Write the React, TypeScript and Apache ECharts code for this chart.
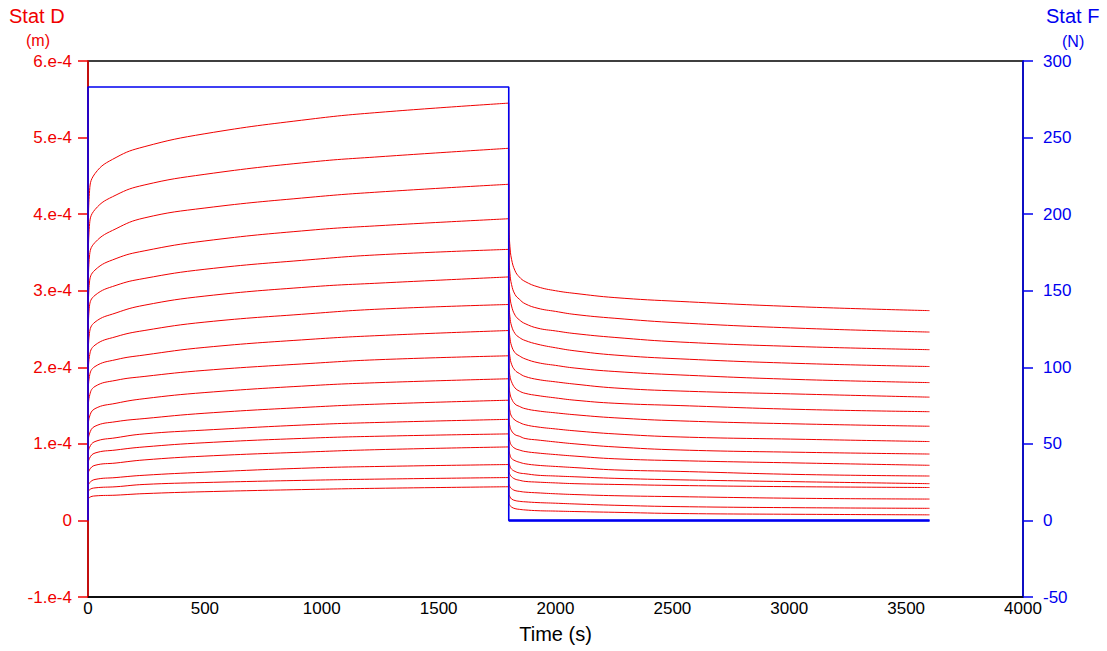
import React, { useEffect, useRef } from "react";
import * as echarts from "echarts";

// Time samples (s)
const CREEP_T = [0, 1, 6, 30, 120, 240, 500, 950, 1249, 1800];
const RECOVERY_T = [1800.5, 1805, 1812, 1827, 1845, 1870, 1925, 2000, 2083, 2254, 2533, 3046, 3600];

// Stat D, in units of 1e-4 m, creep phase (one row per curve)
const CREEP_D = [
  [0, 3.8, 4.27, 4.53, 4.74, 4.88, 5.05, 5.24, 5.33, 5.45],
  [0, 3.4, 3.84, 4.06, 4.25, 4.38, 4.52, 4.68, 4.75, 4.86],
  [0, 3.05, 3.44, 3.63, 3.81, 3.95, 4.08, 4.22, 4.29, 4.39],
  [0, 2.74, 3.1, 3.27, 3.42, 3.52, 3.65, 3.79, 3.85, 3.94],
  [0, 2.46, 2.79, 2.94, 3.07, 3.16, 3.28, 3.405, 3.47, 3.54],
  [0, 2.17, 2.44, 2.59, 2.71, 2.81, 2.93, 3.05, 3.1, 3.18],
  [0, 1.92, 2.14, 2.29, 2.4, 2.48, 2.59, 2.7, 2.76, 2.82],
  [0, 1.68, 1.88, 2.01, 2.1, 2.16, 2.26, 2.365, 2.415, 2.48],
  [0, 1.47, 1.62, 1.75, 1.83, 1.88, 1.96, 2.05, 2.1, 2.15],
  [0, 1.23, 1.35, 1.46, 1.53, 1.59, 1.67, 1.76, 1.8, 1.85],
  [0, 1.03, 1.13, 1.23, 1.29, 1.33, 1.4, 1.48, 1.52, 1.57],
  [0, 0.87, 0.95, 1.03, 1.08, 1.13, 1.18, 1.25, 1.28, 1.32],
  [0, 0.74, 0.81, 0.88, 0.92, 0.96, 1.015, 1.075, 1.1, 1.13],
  [0, 0.6, 0.66, 0.72, 0.75, 0.79, 0.84, 0.895, 0.925, 0.96],
  [0, 0.45, 0.49, 0.535, 0.56, 0.59, 0.63, 0.685, 0.705, 0.73],
  [0, 0.36, 0.4, 0.425, 0.44, 0.47, 0.495, 0.525, 0.54, 0.56],
  [0, 0.27, 0.3, 0.32, 0.33, 0.35, 0.375, 0.405, 0.42, 0.44],
];

// Stat D, in units of 1e-4 m, recovery phase
const RECOVERY_D = [
  [3.81, 3.58, 3.41, 3.26, 3.18, 3.12, 3.05, 3.0, 2.965, 2.91, 2.86, 2.79, 2.74],
  [3.43, 3.23, 3.08, 2.95, 2.89, 2.83, 2.77, 2.73, 2.69, 2.64, 2.58, 2.51, 2.46],
  [3.11, 2.93, 2.8, 2.68, 2.62, 2.57, 2.51, 2.475, 2.44, 2.39, 2.33, 2.27, 2.23],
  [2.82, 2.66, 2.54, 2.44, 2.39, 2.35, 2.3, 2.255, 2.215, 2.16, 2.11, 2.05, 2.01],
  [2.53, 2.39, 2.28, 2.19, 2.15, 2.11, 2.06, 2.025, 1.99, 1.945, 1.9, 1.84, 1.8],
  [2.26, 2.14, 2.04, 1.96, 1.92, 1.88, 1.84, 1.81, 1.78, 1.73, 1.69, 1.65, 1.61],
  [2.0, 1.89, 1.81, 1.73, 1.69, 1.66, 1.63, 1.6, 1.57, 1.53, 1.5, 1.45, 1.42],
  [1.76, 1.66, 1.59, 1.52, 1.49, 1.46, 1.43, 1.405, 1.38, 1.34, 1.3, 1.26, 1.23],
  [1.52, 1.43, 1.36, 1.31, 1.28, 1.25, 1.22, 1.195, 1.17, 1.13, 1.09, 1.06, 1.03],
  [1.3, 1.23, 1.17, 1.12, 1.1, 1.07, 1.05, 1.025, 1.0, 0.96, 0.92, 0.89, 0.867],
  [1.1, 1.03, 0.98, 0.94, 0.92, 0.9, 0.88, 0.86, 0.84, 0.805, 0.78, 0.75, 0.72],
  [0.91, 0.86, 0.81, 0.78, 0.76, 0.74, 0.72, 0.705, 0.69, 0.66, 0.64, 0.6, 0.58],
  [0.76, 0.71, 0.67, 0.64, 0.62, 0.61, 0.59, 0.58, 0.57, 0.55, 0.53, 0.505, 0.48],
  [0.64, 0.6, 0.57, 0.54, 0.525, 0.51, 0.5, 0.49, 0.48, 0.47, 0.456, 0.44, 0.43],
  [0.48, 0.44, 0.415, 0.39, 0.38, 0.37, 0.36, 0.348, 0.338, 0.323, 0.31, 0.289, 0.279],
  [0.34, 0.31, 0.28, 0.26, 0.25, 0.243, 0.233, 0.225, 0.215, 0.198, 0.18, 0.166, 0.158],
  [0.225, 0.196, 0.174, 0.154, 0.145, 0.137, 0.127, 0.122, 0.116, 0.106, 0.09, 0.08, 0.073],
];

// Stat F (N)
const FORCE_T = [0, 0, 1800, 1800, 3600];
const FORCE_N = [0, 283, 283, 0, 0];

const D_UNIT = 1e-4;
const RED = "#f00000";
const BLUE = "#0000f0";
const FONT = "'Liberation Sans', Arial, Helvetica, sans-serif";

export default function App() {
  const ref = useRef<HTMLDivElement>(null);

  useEffect(() => {
    document.body.style.margin = "0";
    document.body.style.overflow = "hidden";
    const chart = echarts.init(ref.current as HTMLDivElement, null, { renderer: "svg" });

    const redLine = { color: RED, width: 1 };
    const series: any[] = [];
    CREEP_D.forEach((row, i) => {
      const rec = RECOVERY_D[i];
      // smooth creep part (after the loading step)
      series.push({
        type: "line",
        yAxisIndex: 0,
        symbol: "none",
        smooth: 0.45,
        lineStyle: redLine,
        data: CREEP_T.slice(1).map((t, j) => [t, row[j + 1] * D_UNIT]),
        z: 2,
      });
      // smooth recovery part
      series.push({
        type: "line",
        yAxisIndex: 0,
        symbol: "none",
        smooth: 0.45,
        lineStyle: redLine,
        data: RECOVERY_T.map((t, j) => [t, rec[j] * D_UNIT]),
        z: 2,
      });
      // straight load / unload steps
      series.push({
        type: "line",
        yAxisIndex: 0,
        symbol: "none",
        lineStyle: redLine,
        data: [
          [CREEP_T[0], row[0] * D_UNIT],
          [CREEP_T[1], row[1] * D_UNIT],
        ],
        z: 2,
      });
      series.push({
        type: "line",
        yAxisIndex: 0,
        symbol: "none",
        lineStyle: redLine,
        data: [
          [CREEP_T[CREEP_T.length - 1], row[row.length - 1] * D_UNIT],
          [RECOVERY_T[0], rec[0] * D_UNIT],
        ],
        z: 2,
      });
    });

    series.push({
      type: "line",
      yAxisIndex: 1,
      symbol: "none",
      lineStyle: { color: BLUE, width: 1.6 },
      data: FORCE_T.map((t, j) => [t, FORCE_N[j]]),
      z: 3,
    });
    series.push({
      type: "line",
      yAxisIndex: 1,
      symbol: "none",
      lineStyle: { color: BLUE, width: 2.6 },
      data: FORCE_T.slice(3).map((t, j) => [t, FORCE_N[j + 3]]),
      z: 3,
    });

    chart.setOption({
      animation: false,
      grid: {
        left: 88,
        right: 84,
        top: 61,
        bottom: 54,
        show: true,
        borderColor: "#000",
        borderWidth: 1.5,
        backgroundColor: "transparent",
      },
      xAxis: {
        type: "value",
        min: 0,
        max: 4000,
        interval: 500,
        name: "Time (s)",
        nameLocation: "middle",
        nameGap: 27,
        nameTextStyle: { color: "#000", fontSize: 20, fontFamily: FONT, verticalAlign: "top" },
        axisLine: { show: true, onZero: false, lineStyle: { color: "#000", width: 1.5 } },
        axisTick: { show: false },
        axisLabel: {
          color: "#000",
          fontSize: 17,
          fontFamily: FONT,
          margin: 3,
          formatter: (v: number) => String(v),
        },
        splitLine: { show: false },
      },
      yAxis: [
        {
          type: "value",
          position: "left",
          min: -1e-4,
          max: 6e-4,
          interval: 1e-4,
          axisLine: { show: true, onZero: false, lineStyle: { color: RED, width: 1.5 } },
          axisTick: { show: true, inside: false, length: 10, lineStyle: { color: RED, width: 1.5 } },
          axisLabel: {
            color: RED,
            fontSize: 17,
            fontFamily: FONT,
            margin: 16,
            formatter: (v: number) => {
              const n = Math.round(v * 1e4);
              return n === 0 ? "0" : n + ".e-4";
            },
          },
          splitLine: { show: false },
        },
        {
          type: "value",
          position: "right",
          min: -50,
          max: 300,
          interval: 50,
          axisLine: { show: true, onZero: false, lineStyle: { color: BLUE, width: 1.5 } },
          axisTick: { show: true, inside: false, length: 10, lineStyle: { color: BLUE, width: 1.5 } },
          axisLabel: { color: BLUE, fontSize: 17, fontFamily: FONT, margin: 20 },
          splitLine: { show: false },
        },
      ],
      graphic: [
        {
          type: "text",
          left: 9,
          top: 6,
          style: { text: "Stat D", fill: RED, font: `20px ${FONT}` },
        },
        {
          type: "text",
          left: 26,
          top: 32,
          style: { text: "(m)", fill: RED, font: `16px ${FONT}` },
        },
        {
          type: "text",
          left: 1046,
          top: 6,
          style: { text: "Stat F", fill: BLUE, font: `20px ${FONT}` },
        },
        {
          type: "text",
          left: 1062,
          top: 33,
          style: { text: "(N)", fill: BLUE, font: `16px ${FONT}` },
        },
      ],
      series,
    });

    return () => chart.dispose();
  }, []);

  return <div ref={ref} style={{ width: 1107, height: 651 }} />;
}
